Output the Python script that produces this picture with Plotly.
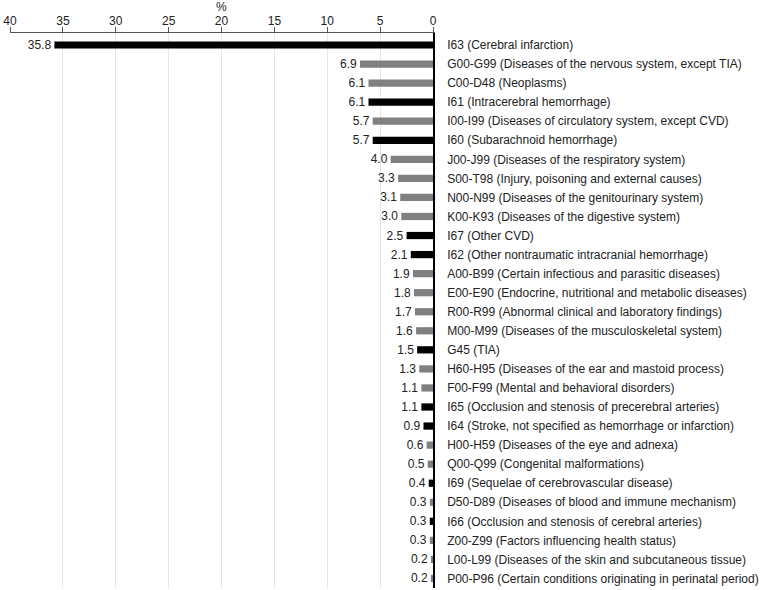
import plotly.graph_objects as go

categories = [
    "I63 (Cerebral infarction)",
    "G00-G99 (Diseases of the nervous system, except TIA)",
    "C00-D48 (Neoplasms)",
    "I61 (Intracerebral hemorrhage)",
    "I00-I99 (Diseases of circulatory system, except CVD)",
    "I60 (Subarachnoid hemorrhage)",
    "J00-J99 (Diseases of the respiratory system)",
    "S00-T98 (Injury, poisoning and external causes)",
    "N00-N99 (Diseases of the genitourinary system)",
    "K00-K93 (Diseases of the digestive system)",
    "I67 (Other CVD)",
    "I62 (Other nontraumatic intracranial hemorrhage)",
    "A00-B99 (Certain infectious and parasitic diseases)",
    "E00-E90 (Endocrine, nutritional and metabolic diseases)",
    "R00-R99 (Abnormal clinical and laboratory findings)",
    "M00-M99 (Diseases of the musculoskeletal system)",
    "G45 (TIA)",
    "H60-H95 (Diseases of the ear and mastoid process)",
    "F00-F99 (Mental and behavioral disorders)",
    "I65 (Occlusion and stenosis of precerebral arteries)",
    "I64 (Stroke, not specified as hemorrhage or infarction)",
    "H00-H59 (Diseases of the eye and adnexa)",
    "Q00-Q99 (Congenital malformations)",
    "I69 (Sequelae of cerebrovascular disease)",
    "D50-D89 (Diseases of blood and immune mechanism)",
    "I66 (Occlusion and stenosis of cerebral arteries)",
    "Z00-Z99 (Factors influencing health status)",
    "L00-L99 (Diseases of the skin and subcutaneous tissue)",
    "P00-P96 (Certain conditions originating in perinatal period)",
]
values = [35.8, 6.9, 6.1, 6.1, 5.7, 5.7, 4.0, 3.3, 3.1, 3.0, 2.5, 2.1, 1.9, 1.8,
          1.7, 1.6, 1.5, 1.3, 1.1, 1.1, 0.9, 0.6, 0.5, 0.4, 0.3, 0.3, 0.3, 0.2, 0.2]
is_cvd = [True, False, False, True, False, True, False, False, False, False, True,
          True, False, False, False, False, True, False, False, True, True, False,
          False, True, False, True, False, False, False]
x_ticks = [0, 5, 10, 15, 20, 25, 30, 35, 40]

colors = ["#000000" if c else "#808080" for c in is_cvd]

fig = go.Figure(go.Bar(
    x=values, y=categories, orientation="h",
    marker=dict(color=colors, line=dict(width=0)),
    width=0.38,
    text=[f"{v:.1f}" for v in values], textposition="outside",
    constraintext="none",
    textfont=dict(family="Liberation Sans, Arial", size=12, color="#222"),
    cliponaxis=False,
))

fig.update_layout(
    width=762, height=590,
    margin=dict(l=10, r=329, t=33, b=2),
    plot_bgcolor="white", paper_bgcolor="white",
    font=dict(family="Liberation Sans, Arial", size=12, color="#222"),
    showlegend=False,
)
fig.add_annotation(
    text="%", x=20, xref="x", y=1, yref="paper", yanchor="middle",
    yshift=26, showarrow=False, font=dict(size=12, color="#222"),
)
fig.update_xaxes(
    range=[40, 0], side="top", tickvals=x_ticks,
    ticks="outside", ticklen=5, tickcolor="#555",
    showline=True, linecolor="#555", linewidth=1,
    showgrid=True, gridcolor="#e6e6e6", gridwidth=1,
    zeroline=False, automargin=False, ticklabelstandoff=-3,
    tickfont=dict(size=12, color="#222"),
)
fig.update_yaxes(
    categoryorder="array", categoryarray=categories,
    range=[len(categories) - 0.5, -0.63], side="right",
    showline=True, linecolor="#000", linewidth=1.5,
    ticks="", ticklabelstandoff=10, automargin=False,
    tickfont=dict(size=12, color="#222"),
    showgrid=False,
)
fig.write_html("out.html", config={"displayModeBar": False},
               post_script="document.body.style.margin='0';")
